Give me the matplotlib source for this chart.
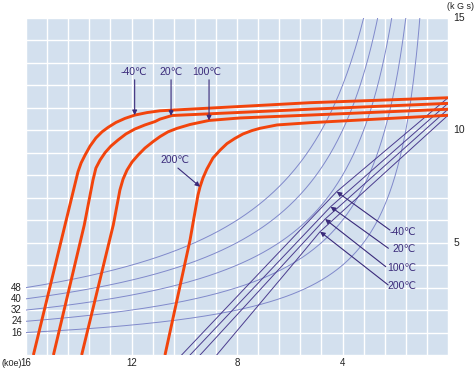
import numpy as np
import matplotlib
matplotlib.use("Agg")
import matplotlib.pyplot as plt

plt.rcParams['font.family'] = ['Liberation Sans', 'DejaVu Sans', 'Noto Sans CJK JP']

# ---------------- data (H in kOe, B in kGs) ----------------
temps = ["-40℃", "20℃", "100℃", "200℃"]

# intrinsic demagnetization curves (thick red)
h_m40 = [15.72, 14.52, 14.03, 13.91, 13.76, 13.57, 13.35, 13.12, 12.89, 12.59, 12.25, 11.87, 11.41, 10.92, 5.23, 0.0]
b_m40 = [0.00, 5.79, 8.15, 8.55, 8.90, 9.30, 9.66, 9.93, 10.13, 10.35, 10.53, 10.68, 10.79, 10.87, 11.23, 11.45]
h_20 = [14.96, 13.79, 13.46, 13.35, 13.19, 13.00, 12.78, 12.51, 12.21, 11.87, 11.49, 11.11, 10.92, 10.46, 5.23, 0.0]
b_20 = [0.00, 5.79, 7.79, 8.32, 8.68, 9.01, 9.30, 9.57, 9.84, 10.06, 10.24, 10.39, 10.50, 10.66, 10.94, 11.20]
h_100 = [13.89, 12.69, 12.44, 12.32, 12.17, 11.98, 11.75, 11.49, 11.18, 10.92, 10.62, 10.27, 9.78, 9.06, 7.89, 5.23, 0.0]
b_100 = [0.00, 5.79, 7.34, 7.83, 8.23, 8.59, 8.90, 9.21, 9.50, 9.72, 9.93, 10.09, 10.26, 10.44, 10.55, 10.68, 10.94]
h_200 = [10.73, 9.78, 9.48, 9.40, 9.29, 9.14, 8.91, 8.64, 8.38, 8.08, 7.77, 7.43, 7.13, 6.48, 5.23, 0.0]
b_200 = [0.00, 5.12, 7.12, 7.49, 7.88, 8.28, 8.77, 9.12, 9.41, 9.64, 9.84, 9.99, 10.09, 10.24, 10.34, 10.67]

# normal curves (thin purple)
nh_m40 = [10.10, 6.75, 4.22, 0.0]
nb_m40 = [0.00, 4.15, 7.27, 11.45]
nh_20 = [9.78, 6.43, 4.45, 0.0]
nb_20 = [0.00, 4.15, 6.60, 11.20]
nh_100 = [9.40, 6.15, 4.66, 0.0]
nb_100 = [0.00, 4.15, 6.05, 10.94]
nh_200 = [8.77, 5.80, 4.85, 0.0]
nb_200 = [0.00, 4.15, 5.49, 10.67]

# energy product guide curves (MGOe)
energy = [16, 24, 32, 40, 48]

x_ticks = [16, 12, 8, 4]
y_ticks = [15, 10, 5]

# ---------------- figure ----------------
W, Hpx = 475, 373
fig = plt.figure(figsize=(W / 100, Hpx / 100), dpi=100)
fig.patch.set_facecolor('white')
L, R, T, Bt = 26, 448, 18, 355
ax = fig.add_axes([L / W, (Hpx - Bt) / Hpx, (R - L) / W, (Bt - T) / Hpx])
ax.set_facecolor('#D3E0EE')
ax.set_xlim(16, 0)
ax.set_ylim(0, 15)
for s in ax.spines.values():
    s.set_visible(False)
ax.set_xticks(np.arange(0, 16.01, 0.8))
ax.set_yticks(np.arange(0, 15.01, 1.0))
ax.tick_params(length=0, labelbottom=False, labelleft=False)
ax.grid(True, color='white', lw=1.0)
ax.set_axisbelow(True)

red = '#F2440C'
purple = '#4B3C8E'
guide = '#8089CB'
txtc = '#3A2A7A'
lab = '#222222'

# energy product hyperbolas
hh = np.linspace(16, 0.9, 300)
for e in energy:
    ax.plot(hh, e / hh, color=guide, lw=0.7, zorder=2)
    ax.annotate(str(e), xy=(16, e / 16), xytext=(-3, 0), textcoords='offset points',
                ha='right', va='center', fontsize=7, color=lab,
                annotation_clip=False)

normals = [(nh_m40, nb_m40), (nh_20, nb_20), (nh_100, nb_100), (nh_200, nb_200)]
for h, b in normals:
    ax.plot(h, b, color=purple, lw=0.7, zorder=3)

intr = [(h_m40, b_m40), (h_20, b_20), (h_100, b_100), (h_200, b_200)]
for h, b in intr:
    ax.plot(h, b, color=red, lw=2.1, zorder=4, solid_capstyle='butt', solid_joinstyle='round')

ap = dict(arrowstyle='-|>', color=txtc, lw=0.8, mutation_scale=7, shrinkA=0, shrinkB=0)

# top labels pointing at intrinsic curves
top_h = [11.88, 10.50, 9.06]
top_text_h = [11.9, 10.5, 9.14]
for i in range(3):
    h, b = intr[i]
    tip_b = np.interp(top_h[i], h[::-1], b[::-1])
    ax.annotate('', xy=(top_h[i], tip_b), xytext=(top_h[i], 12.25), arrowprops=ap, zorder=6)
    ax.text(top_text_h[i], 12.58, temps[i], ha='center', va='center', fontsize=7.5, color=txtc)
# 200 label
h, b = intr[3]
tb = np.interp(9.40, h[::-1], b[::-1])
ax.annotate('', xy=(9.40, tb), xytext=(10.24, 8.32), arrowprops=ap, zorder=6)
ax.text(10.35, 8.70, temps[3], ha='center', va='center', fontsize=7.5, color=txtc)

# right labels pointing at normal curves
tip_b = [7.27, 6.60, 6.05, 5.49]
tails = [(2.20, 5.56), (2.26, 4.75), (2.36, 3.93), (2.27, 3.12)]
label_b = [5.49, 4.72, 3.89, 3.08]
for i in range(4):
    h, b = normals[i]
    th = np.interp(tip_b[i], b, h)
    ax.annotate('', xy=(th, tip_b[i]), xytext=tails[i], arrowprops=ap, zorder=6)
    ax.text(1.21, label_b[i], temps[i], ha='right', va='center', fontsize=7.5, color=txtc)

# axis labels
for v in x_ticks:
    ax.annotate(str(v), xy=(v, 0), xytext=(0, -6), textcoords='offset points',
                ha='center', va='center', fontsize=7, color=lab, annotation_clip=False)
ax.annotate('(k0e)', xy=(16, 0), xytext=(-3.2, -6), textcoords='offset points',
            ha='right', va='center', fontsize=6.5, color=lab, annotation_clip=False)
for v in y_ticks:
    ax.annotate(str(v), xy=(0, v), xytext=(4, 0), textcoords='offset points',
                ha='left', va='center', fontsize=7.5, color=lab, annotation_clip=False)
ax.annotate('(k G s)', xy=(0, 15), xytext=(-0.6, 8), textcoords='offset points',
            ha='left', va='center', fontsize=6.5, color=lab, annotation_clip=False)

fig.savefig('out.png', dpi=100, facecolor='white')
